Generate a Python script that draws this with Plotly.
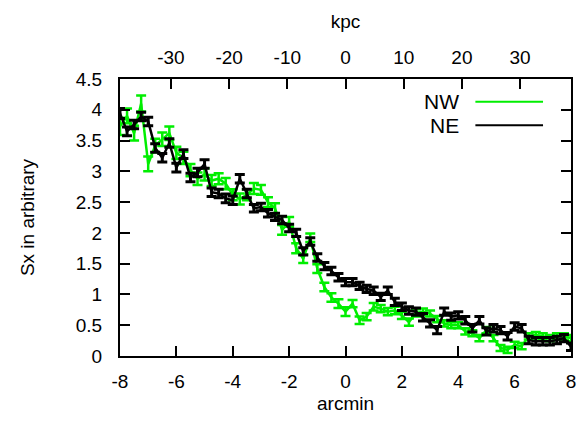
import plotly.graph_objects as go

# arcmin grid
arcmin = [-8 + 0.25 * i for i in range(65)]

nw_values = [3.73, 3.90, 3.62, 4.10, 3.12, 3.42, 3.52, 3.62, 3.30, 3.22,
             3.02, 2.88, 2.95, 2.85, 2.88, 2.80, 2.62, 2.55, 2.62, 2.72,
             2.70, 2.50, 2.40, 2.05, 2.18, 1.75, 1.58, 1.92, 1.42, 1.12,
             0.95, 0.85, 0.72, 0.85, 0.58, 0.64, 0.80, 0.77, 0.72, 0.74,
             0.66, 0.55, 0.70, 0.72, 0.69, 0.60, 0.53, 0.50, 0.50, 0.40,
             0.37, 0.29, 0.42, 0.29, 0.13, 0.10, 0.18, 0.16, 0.32, 0.34,
             0.32, 0.29, 0.32, 0.32, 0.29]
nw_errors = [0.14, 0.12, 0.12, 0.13, 0.12, 0.11, 0.11, 0.11, 0.10, 0.10,
             0.10, 0.10, 0.10, 0.09, 0.09, 0.09, 0.09, 0.09, 0.09, 0.09,
             0.08, 0.08, 0.08, 0.08, 0.08, 0.08, 0.07, 0.07, 0.07, 0.07,
             0.07, 0.07, 0.07, 0.06, 0.06, 0.06, 0.06, 0.06, 0.06, 0.06,
             0.06, 0.06, 0.06, 0.05, 0.05, 0.05, 0.05, 0.05, 0.05, 0.05,
             0.05, 0.05, 0.05, 0.05, 0.05, 0.05, 0.05, 0.05, 0.05, 0.05,
             0.05, 0.05, 0.05, 0.05, 0.05]

ne_values = [3.94, 3.65, 3.76, 3.89, 3.81, 3.38, 3.22, 3.46, 3.06, 3.28,
             2.90, 2.98, 3.12, 2.66, 2.64, 2.56, 2.53, 2.88, 2.64, 2.40,
             2.42, 2.32, 2.26, 2.21, 2.08, 2.00, 1.70, 1.86, 1.60, 1.46,
             1.38, 1.28, 1.20, 1.20, 1.14, 1.09, 1.06, 0.96, 1.06, 0.88,
             0.80, 0.74, 0.72, 0.63, 0.53, 0.42, 0.72, 0.64, 0.66, 0.58,
             0.45, 0.58, 0.40, 0.45, 0.42, 0.32, 0.48, 0.45, 0.26, 0.24,
             0.24, 0.24, 0.26, 0.29, 0.15]
ne_errors = [0.08, 0.07, 0.07, 0.07, 0.07, 0.07, 0.07, 0.07, 0.07, 0.07,
             0.07, 0.07, 0.07, 0.07, 0.07, 0.07, 0.07, 0.07, 0.07, 0.06,
             0.06, 0.06, 0.06, 0.06, 0.06, 0.06, 0.06, 0.06, 0.06, 0.06,
             0.06, 0.06, 0.06, 0.06, 0.06, 0.06, 0.06, 0.06, 0.06, 0.06,
             0.06, 0.06, 0.06, 0.06, 0.06, 0.06, 0.06, 0.06, 0.06, 0.06,
             0.06, 0.06, 0.06, 0.06, 0.06, 0.06, 0.06, 0.06, 0.06, 0.06,
             0.06, 0.06, 0.06, 0.06, 0.06]

x_ticks = [-8, -6, -4, -2, 0, 2, 4, 6, 8]
kpc_ticks = [-30, -20, -10, 0, 10, 20, 30]
y_ticks = [0, 0.5, 1, 1.5, 2, 2.5, 3, 3.5, 4, 4.5]
y_tick_text = ["0", "0.5", "1", "1.5", "2", "2.5", "3", "3.5", "4", "4.5"]
series_names = ["NW", "NE"]
series_colors = ["#00ee00", "#000000"]

FONT = "Liberation Sans, Arial, sans-serif"
FS = 19

fig = go.Figure()
fig.add_trace(go.Scatter(
    x=arcmin, y=nw_values, mode="lines", name=series_names[0],
    line=dict(color=series_colors[0], width=2.5),
    error_y=dict(type="data", array=nw_errors, color=series_colors[0],
                 thickness=2.5, width=5),
    showlegend=False))
fig.add_trace(go.Scatter(
    x=arcmin, y=ne_values, mode="lines", name=series_names[1],
    line=dict(color=series_colors[1], width=2.5),
    error_y=dict(type="data", array=ne_errors, color=series_colors[1],
                 thickness=3, width=5),
    showlegend=False))
# invisible trace to activate the top kpc axis
fig.add_trace(go.Scatter(x=[kpc_ticks[0], kpc_ticks[-1]], y=[None, None],
                         xaxis="x2", mode="markers", showlegend=False,
                         hoverinfo="skip"))

axis_common = dict(showgrid=False, zeroline=False, showline=True,
                   linecolor="black", linewidth=2, ticks="inside",
                   ticklen=10, tickwidth=1.5, tickcolor="black",
                   tickfont=dict(family=FONT, size=FS, color="black"))

fig.update_layout(
    width=580, height=423,
    margin=dict(l=112, r=15, t=67, b=74.5),
    paper_bgcolor="white", plot_bgcolor="white",
    font=dict(family=FONT, size=FS, color="black"),
    xaxis=dict(range=[-8, 8], tickvals=x_ticks,
               ticktext=[str(v) for v in x_ticks],
               title=dict(text="arcmin", standoff=6,
                          font=dict(family=FONT, size=FS)),
               ticklabelstandoff=7, **axis_common),
    xaxis2=dict(range=[-38.75, 38.75], overlaying="x", side="top",
                anchor="y", tickvals=kpc_ticks,
                ticktext=[str(v) for v in kpc_ticks],
                title=dict(text="kpc", standoff=14,
                           font=dict(family=FONT, size=FS)),
                ticklabelstandoff=5, **axis_common),
    yaxis=dict(range=[0, 4.5], tickvals=y_ticks, ticktext=y_tick_text,
               mirror="ticks",
               title=dict(text="Sx in arbitrary", standoff=36,
                          font=dict(family=FONT, size=FS)),
               ticklabelstandoff=12, **axis_common),
)

# legend drawn gnuplot-style: label text on the left, line sample on the right
legend_y = [0.918, 0.833]
for name, color, ly in zip(series_names, series_colors, legend_y):
    fig.add_annotation(x=0.757, y=ly, xref="paper", yref="paper",
                       text=name, showarrow=False, xanchor="right",
                       yanchor="middle",
                       font=dict(family=FONT, size=21, color="black"))
    fig.add_shape(type="line", xref="paper", yref="paper",
                  x0=0.788, x1=0.938, y0=ly, y1=ly,
                  line=dict(color=color, width=2))

fig.write_html("out.html")
